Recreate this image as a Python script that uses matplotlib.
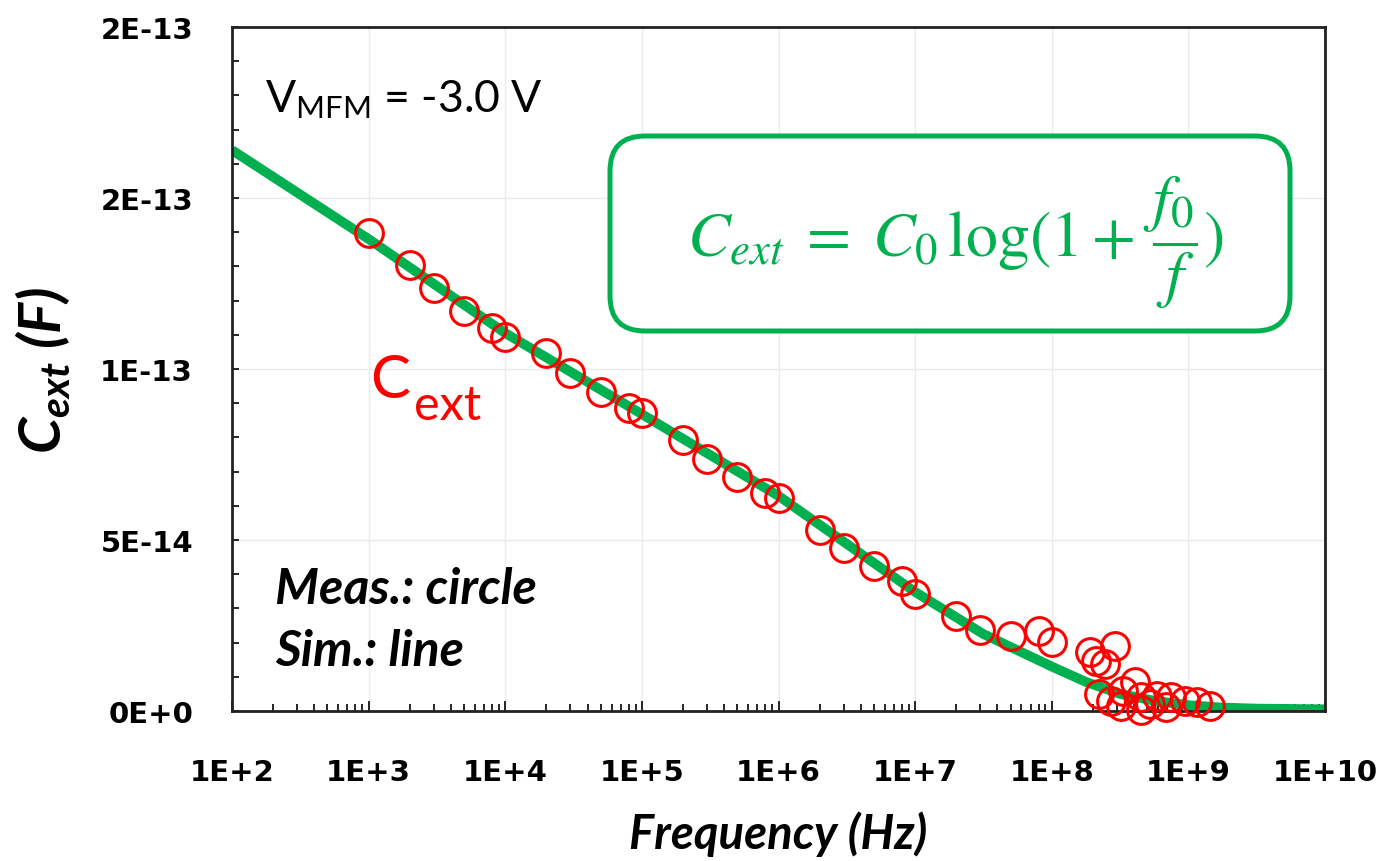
import numpy as np
import matplotlib
matplotlib.use("Agg")
import matplotlib.pyplot as plt
from matplotlib.ticker import MultipleLocator, LogLocator, NullFormatter
from matplotlib.patches import FancyBboxPatch

plt.rcParams["mathtext.fontset"] = "custom"
plt.rcParams["mathtext.rm"] = "Lato"
plt.rcParams["mathtext.it"] = "Lato:bold:italic"
plt.rcParams["mathtext.bf"] = "Lato:bold"

green = "#00B050"
red = "#FF0000"

# measured points (circles), frequency in Hz, C in F
meas_f = [1e3, 2e3, 3e3, 5e3, 8e3, 1e4, 2e4, 3e4, 5e4, 8e4, 1e5,
          2e5, 3e5, 5e5, 8e5, 1e6, 2e6, 3e6, 5e6, 8e6, 1e7,
          2e7, 3e7, 5e7, 8e7, 1e8,
          1.9e8, 2.9e8, 2.1e8, 2.45e8, 2.2e8, 2.7e8, 3.3e8, 4.1e8, 4.5e8,
          3.2e8, 5.9e8, 5.2e8, 7.4e8, 6.9e8, 9.5e8, 1.15e9, 1.45e9, 4.5e8]
meas_c = [13.98, 13.04, 12.37, 11.70, 11.2, 10.94, 10.47, 9.88, 9.33, 8.86, 8.71,
          7.92, 7.37, 6.84, 6.37, 6.23, 5.29, 4.77, 4.24, 3.80, 3.42,
          2.78, 2.37, 2.19, 2.34, 2.02,
          1.72, 1.90, 1.46, 1.37, 0.50, 0.29, 0.58, 0.85, 0.41,
          0.15, 0.44, 0.20, 0.41, 0.12, 0.29, 0.26, 0.15, 0.02]
meas_c = [c * 1e-14 for c in meas_c]

# simulated curve (line)
sim_f = [1e2, 1e3, 1e4, 1e5, 1e6, 1e7, 3.16e7, 1e8, 1.78e8, 3.16e8,
         5.62e8, 1e9, 1.78e9, 3.16e9, 1e10]
sim_c = [16.4, 13.8, 11.05, 8.68, 6.29, 3.48, 2.25, 1.3, 0.85, 0.5,
         0.3, 0.17, 0.1, 0.07, 0.05]
sim_c = [c * 1e-14 for c in sim_c]

x_ticks = [1e2, 1e3, 1e4, 1e5, 1e6, 1e7, 1e8, 1e9, 1e10]
x_labels = ["1E+2", "1E+3", "1E+4", "1E+5", "1E+6", "1E+7", "1E+8", "1E+9", "1E+10"]
y_ticks = [0, 5e-14, 1e-13, 1.5e-13, 2e-13]
y_labels = ["0E+0", "5E-14", "1E-13", "2E-13", "2E-13"]

W, H = 1380, 862
fig = plt.figure(figsize=(W / 100, H / 100), dpi=100)
ax = fig.add_axes([232 / W, 1 - 712 / H, (1325 - 232) / W, (712 - 28) / H])

ax.plot(sim_f, sim_c, color=green, lw=7, solid_capstyle="butt", zorder=2)
ax.plot(meas_f, meas_c, "o", mfc="none", mec=red, ms=20, mew=2.2, zorder=3,
        clip_on=False)

ax.set_xscale("log")
ax.set_xlim(1e2, 1e10)
ax.set_ylim(0, 2e-13)

ax.set_xticks(x_ticks)
ax.set_xticklabels(x_labels)
ax.xaxis.set_minor_locator(LogLocator(base=10, subs=np.arange(2, 10), numticks=100))
ax.xaxis.set_minor_formatter(NullFormatter())
ax.set_yticks(y_ticks)
ax.set_yticklabels(y_labels)
ax.yaxis.set_minor_locator(MultipleLocator(1e-14))

for lab in ax.get_xticklabels() + ax.get_yticklabels():
    lab.set_fontfamily("DejaVu Sans")
    lab.set_fontweight("bold")
    lab.set_fontsize(21)

ax.tick_params(axis="x", which="both", direction="in", pad=34, width=1.2)
ax.tick_params(axis="x", which="major", length=7)
ax.tick_params(axis="x", which="minor", length=5)
ax.tick_params(axis="y", which="both", direction="in", pad=28, width=1.2, length=5)

ax.grid(True, which="major", color="#ebebeb", lw=1)
ax.set_axisbelow(True)
for s in ax.spines.values():
    s.set_linewidth(2)
    s.set_color("#222222")

ax.set_xlabel("Frequency (Hz)", fontfamily="Lato", fontweight="bold",
              fontstyle="italic", fontsize=34, va="top")
ax.xaxis.set_label_coords(0.5, -0.145)
ax.set_ylabel(r"$C_{ext}$ (F)", fontfamily="Lato", fontweight="bold",
              fontstyle="italic", fontsize=42)
ax.yaxis.set_label_coords(-0.146, 0.5)

def fx(px):
    return px / W

def fy(py):
    return 1 - py / H

fig.text(fx(265), fy(112), r"V$_{\mathrm{MFM}}$ = -3.0 V", fontfamily="Lato",
         fontsize=32, va="baseline", ha="left")
fig.text(fx(370), fy(398), "C", fontfamily="Lato", color=red, fontsize=43,
         va="baseline", ha="left")
fig.text(fx(414), fy(420), "ext", fontfamily="Lato", color=red, fontsize=35,
         va="baseline", ha="left")
fig.text(fx(275), fy(604), "Meas.: circle", fontfamily="Lato", fontweight="bold",
         fontstyle="italic", fontsize=36, va="baseline", ha="left")
fig.text(fx(275), fy(666), "Sim.: line", fontfamily="Lato", fontweight="bold",
         fontstyle="italic", fontsize=36, va="baseline", ha="left")

box = FancyBboxPatch((6.10, (H - 332) / 100), 6.80, 1.95,
                     boxstyle="round,pad=0,rounding_size=0.35",
                     transform=fig.dpi_scale_trans, fc="white", ec=green, lw=3.6)
fig.add_artist(box)
fig.text(fx(955), fy(257), r"$C_{ext}\;=\;C_0\,\log(1+\,\dfrac{f_0}{f})$",
         math_fontfamily="stix", color=green, fontsize=46, ha="center", va="baseline")

fig.savefig("out.png", dpi=100)
